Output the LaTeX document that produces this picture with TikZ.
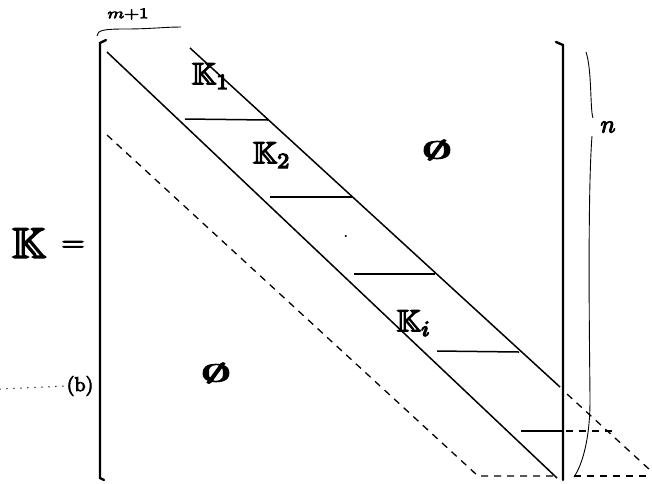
\documentclass[tikz,border=0pt]{standalone}
\usepackage{amssymb}
\usepackage{graphicx}
\usetikzlibrary{calc}
\newcommand{\hw}[1]{\special{pdf:literal direct 2 Tr 0.4 w}#1\special{pdf:literal direct 0 Tr}}
\begin{document}
\begin{tikzpicture}[x=1pt,y=-1pt,
  bracketline/.style={line width=2.4pt,line cap=round},
  diagline/.style={line width=1.5pt},
  bandline/.style={line width=1.5pt},
  dashline/.style={line width=1.3pt,dash pattern=on 7pt off 6pt},
  thinline/.style={line width=0.9pt},
  lbl/.style={inner sep=0pt}]
\useasboundingbox (0,0) rectangle (652,483);
% brackets
\coordinate (LT) at (100,43);
\coordinate (LB) at (100,478);
\coordinate (RT) at (563,45);
\coordinate (RB) at (563,480);
\draw[bracketline] (106,40) -- (LT) -- (LB) -- (104,480);
\draw[bracketline] (556,42) -- (RT) -- (RB);
% diagonals
\coordinate (D1a) at (107,52);
\coordinate (D1b) at (557,478);
\coordinate (D2a) at (190,48);
\coordinate (D2b) at (560,387);
\coordinate (D2c) at (650,470);
\draw[diagline] (D1a) -- (D1b);
\draw[diagline] (D2a) -- (D2b);
\draw[dashline] (567,394) -- (D2c);
% band separators
\draw[bandline] (185,119) -- (268,120);
\draw[bandline] (270,197) -- (352,197);
\draw[bandline] (354,274) -- (435,274);
\draw[bandline] (437,351) -- (519,352);
\draw[bandline] (521,431) -- (RB |- 0,431);
\draw[dashline] (566,431) -- (612,431);
% dashed lower band
\coordinate (E1) at (107,135);
\coordinate (E2) at (478,476);
\draw[dashline] (E1) -- (E2) -- (555,476);
\draw[dashline] (574,476) -- (650,476);
% right brace n
\coordinate (NT) at (586,52);
\coordinate (NB) at (574,477);
\draw[thinline] (NT) .. controls (592,70) and (590,110) .. (593,118);
\draw[thinline] (592,136) .. controls (587,200) and (590,380) .. (590,400) .. controls (590,440) and (582,465) .. (NB);
\node[lbl] (n) at (608,127) {\scalebox{2.5}{\hw{$n$}}};
% top brace m+1
\draw[thinline] (97,36) .. controls (97,30) and (105,29) .. (125,29) .. controls (150,29) and (165,27) .. (181,27);
\node[lbl] (m) at (128,14) {\scalebox{1.9}[1.5]{\hw{$m{+}1$}}};
% labels
\node[lbl] (K) at (29,243) {\scalebox{4.3}{\hw{$\mathbb{K}$}}};
\node[lbl] (eq) at (73,246) {\scalebox{3}[2.6]{\hw{$=$}}};
\node[lbl] (k1) at (211,76) {\scalebox{3.1}{\hw{$\mathbb{K}_1$}}};
\node[lbl] (k2) at (272,155) {\scalebox{3.1}{\hw{$\mathbb{K}_2$}}};
\node[lbl] (dot) at (346,237) {\scalebox{2}{$\cdot$}};
\node[lbl] (ki) at (414,323) {\scalebox{3.1}{\hw{$\mathbb{K}_i$}}};
\node[lbl] (z1) at (437,150) {\scalebox{6}[2.4]{\hw{$\emptyset$}}};
\node[lbl] (z2) at (216,373) {\scalebox{6}[2.4]{\hw{$\emptyset$}}};
% dotted line and (b)
\node[lbl] (b) at (80,386) {\scalebox{2}{\hw{(b)}}};
\coordinate (Dl) at (0,389);
\draw[line width=1.5pt,line cap=round,dash pattern=on 0pt off 7pt] (Dl) -- (b.west);
\end{tikzpicture}
\end{document}
